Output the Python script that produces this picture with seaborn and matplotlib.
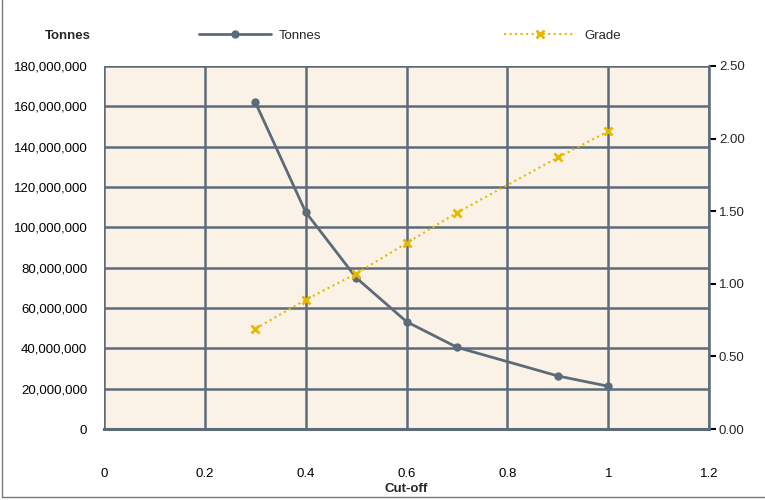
import matplotlib
matplotlib.use("Agg")
import matplotlib.pyplot as plt
import seaborn as sns
import pandas as pd
from matplotlib.ticker import FuncFormatter, MultipleLocator
from matplotlib.lines import Line2D

cutoff = [0.3, 0.4, 0.5, 0.6, 0.7, 0.9, 1.0]
tonnes = [162e6, 107.5e6, 75e6, 53.2e6, 40.5e6, 26.3e6, 21.2e6]
grade = [0.69, 0.89, 1.07, 1.28, 1.49, 1.87, 2.05]

df = pd.DataFrame({'Cut-off': cutoff, 'Tonnes': tonnes, 'Grade': grade})

sns.set_style('white')
plt.rcParams['font.family'] = ['Liberation Sans', 'DejaVu Sans']

slate = '#5b6b79'
gold = '#e6b800'

fig = plt.figure(figsize=(7.65, 5), dpi=100)
ax = fig.add_axes([0.136, 0.142, 0.791, 0.726])
ax.set_facecolor('#faf2e6')

sns.lineplot(data=df, x='Cut-off', y='Tonnes', ax=ax, color=slate, linewidth=2,
             marker='o', markersize=6, markeredgewidth=0, legend=False)

ax.set_xlim(0, 1.2)
ax.set_ylim(0, 180e6)
ax.xaxis.set_major_locator(MultipleLocator(0.2))
ax.yaxis.set_major_locator(MultipleLocator(20e6))
ax.yaxis.set_major_formatter(FuncFormatter(lambda v, p: f'{v:,.0f}'))
ax.xaxis.set_major_formatter(FuncFormatter(lambda v, p: f'{v:g}'))
ax.grid(True, color=slate, linewidth=1.8)
ax.set_axisbelow(True)
for s in ax.spines.values():
    s.set_visible(False)
ax.tick_params(axis='both', length=0, labelsize=9.5, colors='black')
ax.tick_params(axis='x', pad=28)
ax.tick_params(axis='y', pad=12)
ax.set_xlabel('Cut-off', fontsize=9.5, fontweight='bold', labelpad=2)
ax.set_ylabel('')

ax2 = ax.twinx()
sns.lineplot(data=df, x='Cut-off', y='Grade', ax=ax2, color=gold, linewidth=1.5,
             linestyle=':', marker='x', markersize=6, markeredgewidth=2,
             markeredgecolor=gold, legend=False)
ax2.set_ylim(0, 2.5)
ax2.yaxis.set_major_locator(MultipleLocator(0.5))
ax2.yaxis.set_major_formatter(FuncFormatter(lambda v, p: f'{v:.2f}'))
for s in ax2.spines.values():
    s.set_visible(False)
ax2.spines['right'].set_visible(True)
ax2.spines['right'].set_color(slate)
ax2.spines['right'].set_linewidth(1.8)
ax2.spines['bottom'].set_visible(True)
ax2.spines['bottom'].set_color(slate)
ax2.spines['bottom'].set_linewidth(2.2)
ax2.tick_params(axis='y', length=5, width=1.5, color='black', labelsize=9.5, pad=2, direction='out')
ax2.set_ylabel('')

fig.text(0.118, 0.928, 'Tonnes', fontsize=9.5, fontweight='bold', ha='right', va='center')

h1 = Line2D([], [], color=slate, linewidth=2, marker='o', markersize=6, markeredgewidth=0)
h2 = Line2D([], [], color=gold, linewidth=1.5, linestyle=':', marker='x', markersize=6,
            markeredgewidth=2, markeredgecolor=gold)
fig.legend([h1], ['Tonnes'], loc='center', bbox_to_anchor=(0.34, 0.928), frameon=False,
           fontsize=9.5, handlelength=5.5, handletextpad=0.6)
fig.legend([h2], ['Grade'], loc='center', bbox_to_anchor=(0.735, 0.928), frameon=False,
           fontsize=9.5, handlelength=5.5, handletextpad=0.6)

# thin frame on the left and bottom edges of the image
fig.add_artist(Line2D([0.002, 0.002], [0.006, 1], color='#777777', linewidth=1, transform=fig.transFigure))
fig.add_artist(Line2D([0.002, 1], [0.006, 0.006], color='#777777', linewidth=1, transform=fig.transFigure))

fig.savefig('out.png', dpi=100)
